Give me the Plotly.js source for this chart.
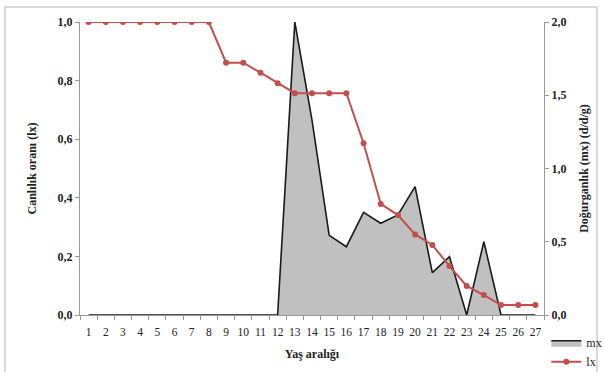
<!DOCTYPE html>
<html>
<head>
<meta charset="utf-8">
<script src="https://cdn.plot.ly/plotly-3.0.1.min.js"></script>
<style>
html,body{margin:0;padding:0;background:#fff;}
#frame{position:absolute;left:4px;top:6px;width:594px;height:372px;border:2px solid #d9d9d9;box-sizing:border-box;}
#chart{position:absolute;left:0;top:0;width:604px;height:372px;}
</style>
</head>
<body>
<div id="frame"></div>
<div id="chart"></div>
<script>
const ageClasses = ['1','2','3','4','5','6','7','8','9','10','11','12','13','14','15','16','17','18','19','20','21','22','23','24','25','26','27'];
const lxValues = [1.0,1.0,1.0,1.0,1.0,1.0,1.0,1.0,0.861,0.861,0.827,0.791,0.757,0.757,0.757,0.757,0.586,0.379,0.341,0.275,0.239,0.167,0.099,0.068,0.034,0.034,0.034];
const mxValues = [0,0,0,0,0,0,0,0,0,0,0,0,2.0,1.33,0.544,0.466,0.701,0.626,0.683,0.876,0.289,0.398,0,0.50,0,0,0];
const leftTicks = [0,0.2,0.4,0.6,0.8,1.0];
const rightTicks = [0,0.5,1.0,1.5,2.0];

const serif = 'Liberation Serif, Times New Roman, serif';

const traces = [
  {
    x: ageClasses, y: mxValues, name: 'mx', type: 'scatter', mode: 'lines',
    fill: 'tozeroy', fillcolor: '#c0c0c0',
    line: {color: '#1a1a1a', width: 1.6},
    yaxis: 'y'
  },
  {
    x: ageClasses, y: lxValues, name: 'lx', type: 'scatter', mode: 'lines+markers',
    line: {color: '#c0504d', width: 2},
    marker: {color: '#c0504d', size: 6, symbol: 'circle'},
    yaxis: 'y2'
  }
];

const layout = {
  width: 604, height: 372,
  margin: {l: 80, r: 60, t: 22, b: 57, autoexpand: false},
  paper_bgcolor: 'rgba(0,0,0,0)', plot_bgcolor: 'rgba(0,0,0,0)',
  separators: ',.',
  showlegend: true,
  font: {family: serif, color: '#222', size: 12},
  legend: {x: 1.005, y: -0.045, xanchor: 'left', yanchor: 'top', bgcolor: 'rgba(0,0,0,0)',
           font: {family: serif, size: 12, color: '#222'}, tracegroupgap: 2, itemwidth: 30},
  xaxis: {
    type: 'category', range: [-0.5, 26.5], tickson: 'boundaries', tickangle: 0,
    ticks: 'outside', ticklen: 4, tickcolor: '#999', showgrid: false,
    showline: true, linecolor: '#999', linewidth: 1, zeroline: false,
    ticklabelstandoff: 6,
    tickfont: {family: serif, size: 11.5, color: '#222'},
    title: {text: '<b>Yaş aralığı</b>', font: {family: serif, size: 12, color: '#222'}, standoff: 12}
  },
  yaxis: {
    range: [0, 2.0], tickvals: rightTicks, tickformat: '.1f', side: 'right',
    ticks: 'outside', ticklen: 4, tickcolor: '#999', showgrid: false,
    showline: true, linecolor: '#999', linewidth: 1, zeroline: false,
    tickfont: {family: serif, size: 12, color: '#222', weight: 'bold'},
    title: {text: '<b>Doğurganlık (mx) (d/d/g)</b>', font: {family: serif, size: 12, color: '#222'}, standoff: 14}
  },
  yaxis2: {
    range: [0, 1.0], tickvals: leftTicks, tickformat: '.1f', overlaying: 'y', side: 'left',
    ticks: 'outside', ticklen: 4, tickcolor: '#999', showgrid: false,
    showline: true, linecolor: '#999', linewidth: 1, zeroline: false,
    tickfont: {family: serif, size: 12, color: '#222', weight: 'bold'},
    title: {text: '<b>Canlılık oranı (lx)</b>', font: {family: serif, size: 12, color: '#222'}, standoff: 18}
  }
};

Plotly.newPlot('chart', traces, layout, {staticPlot: true, displayModeBar: false});
</script>
</body>
</html>
